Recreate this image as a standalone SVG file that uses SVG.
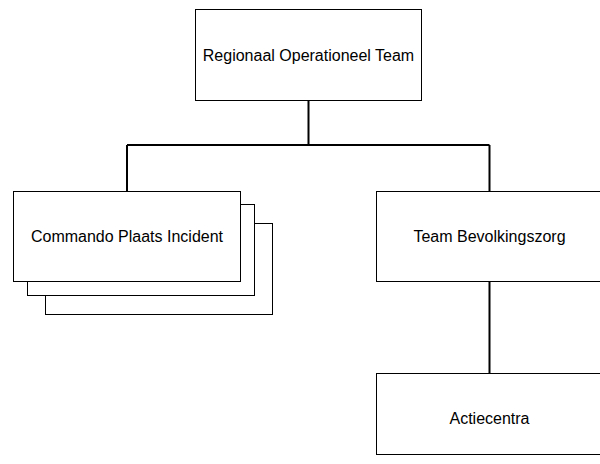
<svg xmlns="http://www.w3.org/2000/svg" width="600" height="464" viewBox="0 0 600 464">
<style>
.box{fill:#fff;stroke:#000;stroke-width:1}
.lbl{font-family:"Liberation Sans",Arial,sans-serif;font-size:16px;fill:#000;text-anchor:middle;dominant-baseline:central}
.conn{fill:none;stroke:#000;stroke-width:2}
</style>
<rect width="600" height="464" fill="#fff"/>
<g id="connectors">
<path class="conn" d="M308.5,100 V145 M127,145 H489.5 M127,145 V191 M489.5,145 V191 M489.5,282 V373"/>
</g>
<g id="rot">
<rect class="box" x="195.5" y="9.5" width="226" height="91"/>
<text class="lbl" x="308.5" y="55">Regionaal Operationeel Team</text>
</g>
<g id="cpi">
<rect class="box" x="45.5" y="223.5" width="227" height="91"/>
<rect class="box" x="27.5" y="204.5" width="227" height="91"/>
<rect class="box" x="13.5" y="191.5" width="227" height="90"/>
<text class="lbl" x="127" y="236.5">Commando Plaats Incident</text>
</g>
<g id="tbz">
<rect class="box" x="376.5" y="191.5" width="227" height="90"/>
<text class="lbl" x="489.5" y="236.5">Team Bevolkingszorg</text>
</g>
<g id="actie">
<rect class="box" x="376.5" y="373.5" width="227" height="81"/>
<text class="lbl" x="489.5" y="418">Actiecentra</text>
</g>
</svg>
